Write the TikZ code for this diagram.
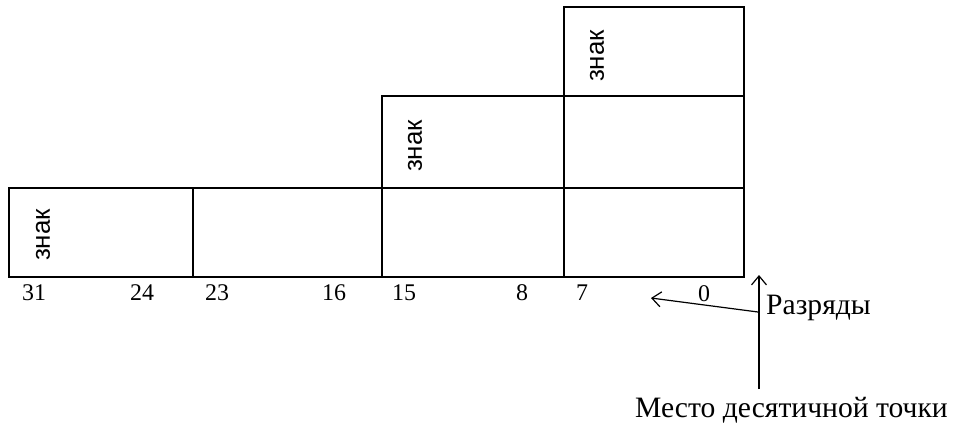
\documentclass[tikz,border=0pt]{standalone}
\usepackage{fontspec}
\setmainfont{Liberation Serif}
\newfontfamily\znakfont{Liberation Sans}
\usetikzlibrary{arrows.meta}
\begin{document}
\begin{tikzpicture}[x=1bp,y=-1bp,
  cell/.style={draw, line width=1.2bp, inner sep=0pt},
  znak/.style={font=\znakfont\fontsize{26}{29}\selectfont, rotate=90, inner sep=0pt},
  bitno/.style={font=\fontsize{24}{28}\selectfont, inner sep=0pt},
  lbl/.style={font=\fontsize{29.7}{34}\selectfont, inner sep=0pt, anchor=base west},
  arr/.style={draw, line width=1.2bp, -{Straight Barb[length=9bp,width=15bp,line width=1.2bp]}}]
\useasboundingbox (0,0) rectangle (953,426);
% bottom row
\node[cell, minimum width=184bp, minimum height=89bp] (b1) at (101,232.5) {};
\node[cell, minimum width=189bp, minimum height=89bp] (b2) at (287.5,232.5) {};
\node[cell, minimum width=182bp, minimum height=89bp] (b3) at (473,232.5) {};
\node[cell, minimum width=180bp, minimum height=89bp] (b4) at (654,232.5) {};
% middle row
\node[cell, minimum width=182bp, minimum height=92bp] (m3) at (473,142) {};
\node[cell, minimum width=180bp, minimum height=92bp] (m4) at (654,142) {};
% top row
\node[cell, minimum width=180bp, minimum height=89bp] (t4) at (654,51.5) {};
% sign labels
\node[znak] (z1) at (43,235) {знак};
\node[znak] (z2) at (415,146) {знак};
\node[znak] (z3) at (597,56) {знак};
% bit numbers
\node[bitno] (n31) at (34,293) {31};
\node[bitno] (n24) at (142,293) {24};
\node[bitno] (n23) at (217,293) {23};
\node[bitno] (n16) at (334,293) {16};
\node[bitno] (n15) at (404,293) {15};
\node[bitno] (n8) at (522,293) {8};
\node[bitno] (n7) at (582,293) {7};
\node[bitno] (n0) at (704,294) {0};
% labels
\node[lbl] (razr) at (766,314) {Разряды};
\node[lbl] (mesto) at (635,417) {Место десятичной точки};
\coordinate (razrA) at (758,312);
\coordinate (razrB) at (651,298);
\coordinate (ptA) at (759,389);
\coordinate (ptB) at (759,275);
\draw[arr] (razrA) -- (razrB);
\draw[arr] (ptA) -- (ptB);
\end{tikzpicture}
\end{document}
